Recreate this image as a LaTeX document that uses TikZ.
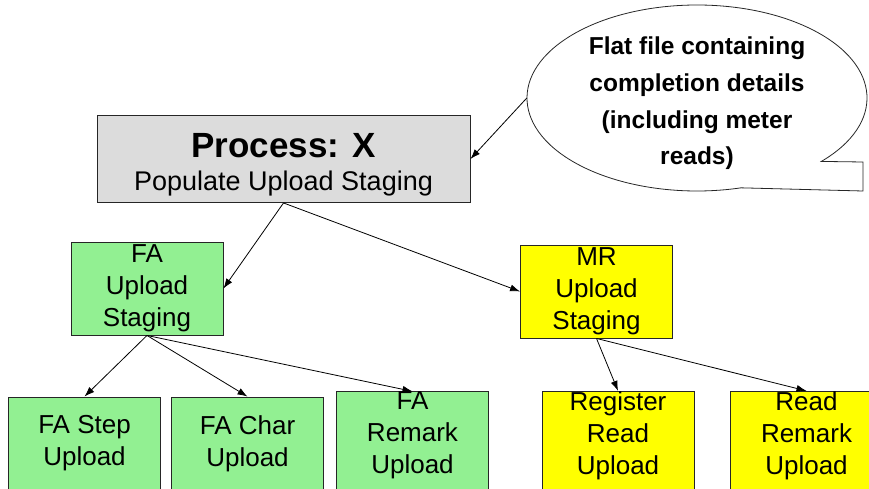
\documentclass[tikz,border=0pt]{standalone}
\usepackage{fontspec}
\setmainfont{Liberation Sans}
\usetikzlibrary{shapes.geometric,arrows.meta}
\definecolor{procgray}{RGB}{220,220,220}
\definecolor{stagegreen}{RGB}{146,240,146}
\definecolor{mryellow}{RGB}{255,255,0}
\tikzset{
  procbox/.style={
    draw=black!85, line width=0.9pt, fill=procgray,
    minimum width=373pt, minimum height=87pt, inner sep=0pt,
    align=center, text height=67.7pt,
    font=\fontsize{27}{33}\selectfont
  },
  fabox/.style={
    draw=black!85, line width=0.9pt, fill=stagegreen,
    minimum width=152pt, minimum height=93pt, inner sep=0pt,
    align=center, font=\fontsize{26}{32}\selectfont
  },
  mrbox/.style={fabox, fill=mryellow},
  liftup/.style={text depth=21.5pt},
  notebox/.style={
    ellipse, minimum width=340pt, minimum height=186pt, inner sep=0pt,
    align=center, text height=139pt,
    font=\fontsize{24.5}{36.7}\selectfont\bfseries
  },
  flow/.style={-{Latex[length=10pt,width=7pt]}, black, line width=0.8pt}
}

\begin{document}
\begin{tikzpicture}[x=1pt, y=-1pt]
  \useasboundingbox (0,0) rectangle (869,489);
  %
  % ==================================================================
  % Top:  process box and the flat file note
  % ==================================================================
  \node[procbox] (proc) at (283.5,159)
    {{\fontsize{35}{35}\selectfont\bfseries Process: X}\\Populate Upload Staging};
  \node[notebox] (note) at (697,98)
    {Flat file containing\\completion details\\(including meter\\reads)};
  % note outline with its tab (lower right)
  \draw[black!85, line width=0.8pt] (note.center) ++(-43:170pt and 93pt)
    arc[start angle=-43, end angle=285, x radius=170pt, y radius=93pt]
    -- (863,191) -- (863,162) -- cycle;
  %
  % ==================================================================
  % Middle:  staging tables
  % ==================================================================
  \node[fabox] (fastage) at (147,288.5) {FA\\Upload\\Staging};
  \node[mrbox] (mrstage) at (596.5,291.5) {MR\\Upload\\Staging};
  %
  % ==================================================================
  % Bottom:  upload tables
  % ==================================================================
  \node[fabox] (fastep) at (84.5,443.5) {FA Step\\Upload};
  \node[fabox] (facha) at (247.5,443.5) {FA Char\\Upload};
  \node[fabox, liftup] (farem) at (412.5,443.5) {FA\\Remark\\Upload};
  \node[mrbox, liftup] (regread) at (618,443.5) {Register\\Read\\Upload};
  \node[mrbox, liftup] (rdrem) at (806.5,443.5) {Read\\Remark\\Upload};
  %
  % connectors
  \draw[flow] (note.west) -- (proc.east);
  \draw[flow] (proc.south) -- (fastage.east);
  \draw[flow] (proc.south) -- (mrstage.west);
  \draw[flow] (fastage.south) -- (fastep.north);
  \draw[flow] (fastage.south) -- (facha.north);
  \draw[flow] (fastage.south) -- (farem.north);
  \draw[flow] (mrstage.south) -- (regread.north);
  \draw[flow] (mrstage.south) -- (rdrem.north);
\end{tikzpicture}
\end{document}
